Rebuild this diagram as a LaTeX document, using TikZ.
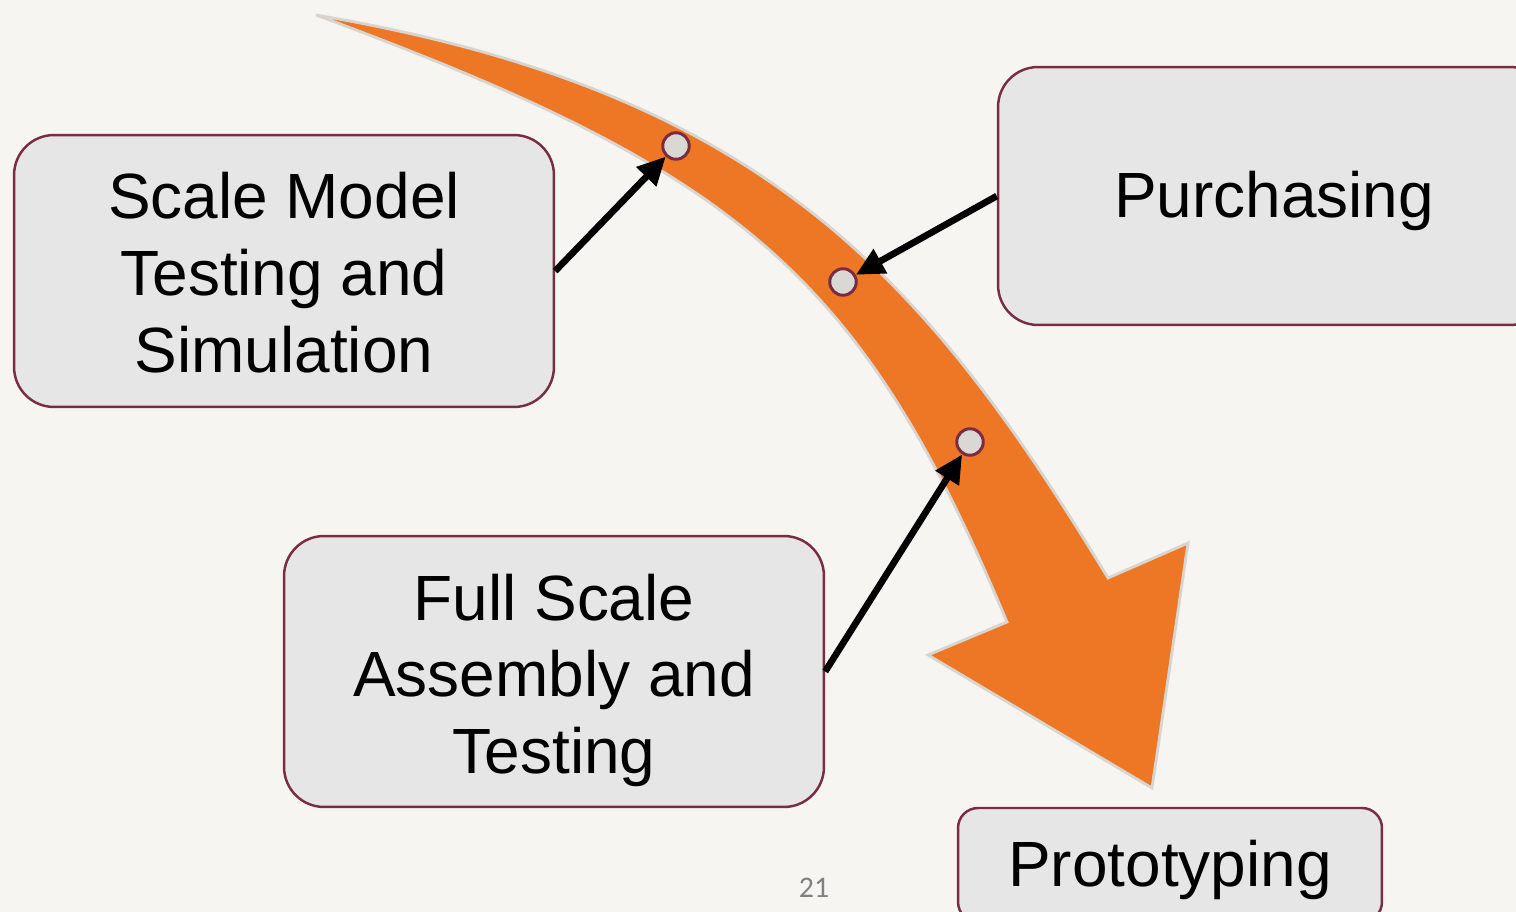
\documentclass[tikz,border=0pt]{standalone}
\usepackage{fontspec}
\setmainfont{Liberation Sans}
\newfontfamily\numfont{Carlito}
\usetikzlibrary{arrows.meta}

\definecolor{slidebg}{RGB}{246,245,242}
\definecolor{boxfill}{RGB}{230,230,230}
\definecolor{maroon}{RGB}{122,45,66}
\definecolor{bandorange}{RGB}{238,119,38}
\definecolor{bandrim}{RGB}{216,212,206}
\definecolor{dotfill}{RGB}{218,216,212}
\definecolor{pagegray}{RGB}{128,128,128}

\tikzset{
  stagebox/.style={draw=maroon, line width=1.4pt, fill=boxfill,
    rounded corners=0.8cm, inner sep=0pt},
  stagetext/.style={inner sep=0pt, align=center,
    font=\fontsize{36.4}{43.7}\selectfont},
  band/.style={fill=bandorange, draw=bandrim, line width=1.6pt, line join=miter},
  milestone/.style={circle, draw=maroon, line width=1.7pt, fill=dotfill,
    minimum size=0.53cm, inner sep=0pt},
  feed/.style={line width=3.8pt, -{Triangle[length=16pt,width=15pt]}}
}

\begin{document}
\begin{tikzpicture}[x=0.02cm, y=-0.02cm]
  % page and background
  \fill[slidebg] (0,0) rectangle (1516,912);
  \useasboundingbox (0,0) rectangle (1516,912);
  \clip (0,0) rectangle (1516,912);

  % curved process arrow
  \path[band]
    (316,15) .. controls (766,91.5) and (926,279) .. (1108,578)
    -- (1188,543) -- (1152,788) -- (928,655) -- (1007,622)
    .. controls (860.7,271.3) and (736,170.4) .. (316,15)
    -- cycle;

  % milestones on the arrow
  \node[milestone] (c1) at (676,146) {};
  \node[milestone] (c2) at (843,282) {};
  \node[milestone] (c3) at (970,442) {};

  % stage boxes
  \node[stagebox, minimum width=10.8cm, minimum height=5.44cm] (sm) at (284,271) {};
  \node[stagebox, minimum width=11.04cm, minimum height=5.16cm] (pu) at (1274,196) {};
  \node[stagebox, minimum width=10.8cm, minimum height=5.42cm] (fs) at (554,671.5) {};
  \node[stagebox, rounded corners=0.4cm, minimum width=8.48cm, minimum height=2.28cm]
    (pr) at (1170,865) {};

  % stage labels
  \node[stagetext] (smt) at ([yshift=-0.9pt]sm.center) {Scale Model\\Testing and\\Simulation};
  \node[stagetext] (put) at ([yshift=-3pt]pu.center) {Purchasing};
  \node[stagetext] (fst) at ([yshift=-5.1pt]fs.center) {Full Scale\\Assembly and\\Testing};
  \node[stagetext] (prt) at ([yshift=-2.6pt]pr.center) {Prototyping};

  % connectors from the stages to the milestones
  \draw[feed] (sm.east) -- (c1);
  \draw[feed] (pu.west) -- (c2);
  \draw[feed] (fs.east) -- (c3);

  % page number
  \node[font=\numfont\fontsize{17}{20}\selectfont, text=pagegray] (pg) at (814,888) {21};
\end{tikzpicture}
\end{document}
